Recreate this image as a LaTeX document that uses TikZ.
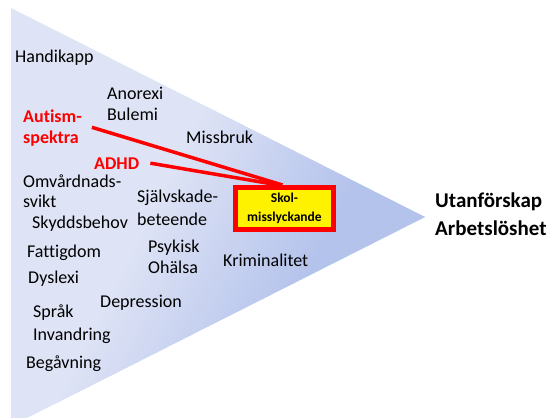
\documentclass[tikz,border=0pt]{standalone}
\usepackage{fontspec}
\setmainfont{Carlito}[Ligatures=NoCommon]
\definecolor{lav}{RGB}{222,227,245}
\definecolor{blu}{RGB}{180,195,236}
\begin{document}
\begin{tikzpicture}[x=1pt,y=-1pt,
  lbl/.style={anchor=base west, inner sep=0pt, font=\fontsize{18}{21}\selectfont},
  redlbl/.style={anchor=base west, inner sep=0pt, text=red, font=\fontsize{18}{21}\selectfont\bfseries},
  outlbl/.style={anchor=base west, inner sep=0pt, font=\fontsize{21}{25}\selectfont\bfseries},
  link/.style={red, line width=3.5pt},
  boxst/.style={draw=red, line width=5pt, fill=yellow, minimum width=98pt, minimum height=42pt, inner sep=0pt, align=center, font=\fontsize{13.5}{19}\selectfont\bfseries}]
\useasboundingbox (0,0) rectangle (547,418);
% gradient triangle
\begin{scope}
  \clip (11,8) -- (425,217) -- (11,426) -- cycle;
  \fill[lav] (0,0) rectangle (547,430);
  \begin{scope}[rotate=-26.57]
    \foreach \i in {0,...,59}{
      \pgfmathsetmacro\tt{230+\i*170/60}
      \pgfmathsetmacro\pc{(\i+0.5)*100/60}
      \fill[blu!\pc!lav] (\tt,-1000) rectangle ({\tt+3.4},1000);
    }
    \fill[blu] (399,-1000) rectangle (1200,1000);
  \end{scope}
\end{scope}
% labels
\node[lbl] (handikapp) at (15,62) {Handikapp};
\node[lbl] (anorexi) at (107,99) {Anorexi};
\node[lbl] (bulemi) at (107,120) {Bulemi};
\node[redlbl] (autism) at (23,122) {Autism-};
\node[redlbl] (spektra) at (23,143) {spektra};
\node[lbl] (missbruk) at (186,143) {Missbruk};
\node[redlbl] (adhd) at (94,169) {ADHD};
\node[lbl] (omv) at (23,187) {Omvårdnads-};
\node[lbl] (svikt) at (23,207) {svikt};
\node[lbl] (sjalv) at (137,202) {Självskade-};
\node[lbl] (beteende) at (137,225) {beteende};
\node[lbl] (skydd) at (32,228) {Skyddsbehov};
\node[lbl] (fattig) at (27,257) {Fattigdom};
\node[lbl] (psykisk) at (148,252) {Psykisk};
\node[lbl] (ohalsa) at (148,273) {Ohälsa};
\node[lbl] (krim) at (223,266) {Kriminalitet};
\node[lbl] (dyslexi) at (28,283) {Dyslexi};
\node[lbl] (depr) at (100,307) {Depression};
\node[lbl] (sprak) at (33,317) {Språk};
\node[lbl] (invandr) at (33,340) {Invandring};
\node[lbl] (begav) at (26,368) {Begåvning};
\node[outlbl] (utanf) at (435,207) {Utanförskap};
\node[outlbl] (arbets) at (435,235) {Arbetslöshet};
% box
\node[boxst] (skol) at (284.5,208.5) {Skol-\\misslyckande};
% connectors
\draw[link] ([shift={(10,5)}]autism.south east) -- ([xshift=-2pt]skol.north);
\draw[link] ([xshift=11pt]adhd.east) -- ([xshift=-6pt]skol.north);
\end{tikzpicture}
\end{document}
